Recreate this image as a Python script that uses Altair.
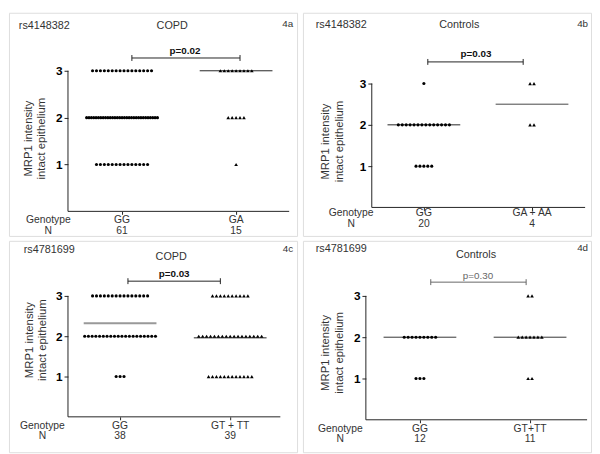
import altair as alt
import pandas as pd

# ---------------- data ----------------
snps = ["rs4148382", "rs4148382", "rs4781699", "rs4781699"]
groups = ["COPD", "Controls", "COPD", "Controls"]
tags = ["4a", "4b", "4c", "4d"]
p_texts = ["p=0.02", "p=0.03", "p=0.03", "p=0.30"]
genotypes = [["GG", "GA"], ["GG", "GA + AA"], ["GG", "GT + TT"], ["GG", "GT+TT"]]
n_labels = [["61", "15"], ["20", "4"], ["38", "39"], ["12", "11"]]
levels = [3, 2, 1]
# number of samples at intensity 3, 2, 1 for each genotype group
counts_a = [[16, 31, 14], [9, 5, 1]]
counts_b = [[1, 14, 5], [2, 2, 0]]
counts_c = [[15, 20, 3], [10, 17, 12]]
counts_d = [[0, 9, 3], [2, 7, 2]]
counts = [counts_a, counts_b, counts_c, counts_d]
# horizontal summary lines per genotype group
center_a = [2.0, 3.0]
center_b = [2.0, 2.5]
center_c = [2.32, 1.96]
center_d = [2.0, 2.0]
centers = [center_a, center_b, center_c, center_d]

# ---------------- layout (pixels inside each panel) ----------------
W = 293
layouts = [
    dict(H=227, axis_x=60, c1=115, c2=231, y3=59, y0=202, axis_end=285,
         rs=(10, 14), grp=(166, 14), tag=(289, 11), br=(125, 235, 46), p=(179, 39),
         yt=(20, 128), gy=211, ny=222, wx=40, pbold=True, pcol="#111"),
    dict(H=227, axis_x=70, c1=123, c2=233, y3=72, y0=198, axis_end=287,
         rs=(13, 13), grp=(159, 13), tag=(290, 11), br=(127, 224, 50), p=(176, 42),
         yt=(24, 131), gy=204, ny=215, wx=49, pbold=True, pcol="#111"),
    dict(H=215, axis_x=60, c1=113, c2=225, y3=56, y0=179, axis_end=276,
         rs=(15, 9), grp=(165, 16), tag=(289, 8), br=(121, 215, 41), p=(168, 34),
         yt=(21, 101), gy=188, ny=199, wx=34, pbold=True, pcol="#111"),
    dict(H=215, axis_x=64, c1=119, c2=231, y3=56, y0=182, axis_end=289,
         rs=(13, 8), grp=(176, 14), tag=(290, 7), br=(130, 227, 42), p=(178, 36),
         yt=(24, 114), gy=191, ny=202, wx=38, pbold=False, pcol="#666"),
]
line_styles = [
    [("#222", 1), ("#222", 1)],
    [("#222", 1), ("#444", 1)],
    [("#999", 2), ("#222", 1)],
    [("#333", 1), ("#333", 1)],
]
FONT = "Liberation Sans"
TXT = "#333"
STEP = 4.0     # px between neighbouring dots
MAXW = 72.0    # max px width of a dot row
HALF = 37.0    # px half width of summary line


def panel(k):
    L = layouts[k]
    H = L["H"]
    u = L["c2"] - L["c1"]
    v = (L["y0"] - L["y3"]) / 3.0
    xs = alt.Scale(domain=[1 - L["c1"] / u, 1 + (W - L["c1"]) / u], nice=False, zero=False)
    ys = alt.Scale(domain=[-(H - L["y0"]) / v, 3 + L["y3"] / v], nice=False, zero=False)
    xaxis = alt.Axis(values=[1, 2], labels=False, domain=False, ticks=True, tickSize=3,
                     tickColor="#222", offset=-(H - L["y0"]), grid=False, title=None)
    yaxis = alt.Axis(values=[1, 2, 3], domain=False, tickSize=4, tickColor="#222",
                     offset=-L["axis_x"], grid=False, title=None, labelFont=FONT,
                     labelFontSize=12, labelFontWeight="bold", labelColor="black",
                     labelPadding=2)

    def X(f="x"):
        return alt.X(f"{f}:Q", scale=xs, axis=xaxis)

    def Y(f="y"):
        return alt.Y(f"{f}:Q", scale=ys, axis=yaxis)

    rows = []
    for gi, cnt in enumerate(counts[k]):
        for lev, n in zip(levels, cnt):
            if n == 0:
                continue
            s = min(STEP, MAXW / (n - 1)) if n > 1 else 0.0
            for i in range(n):
                rows.append({"x": gi + 1 + (i - (n - 1) / 2) * s / u, "y": lev,
                             "g": "circle" if gi == 0 else "tri"})
    dots = pd.DataFrame(rows)

    lines = pd.DataFrame({
        "x": [i + 1 - HALF / u for i in range(2)],
        "x2": [i + 1 + HALF / u for i in range(2)],
        "y": centers[k],
        "c": [line_styles[k][i][0] for i in range(2)],
        "w": [line_styles[k][i][1] for i in range(2)],
    })
    labs = pd.DataFrame({"x": [1, 2], "geno": genotypes[k], "n": n_labels[k]})
    one = pd.DataFrame({"y": [0], "y2": [3]})

    yline = alt.Chart(one).mark_rule(color="#222", strokeWidth=1).encode(
        x=alt.value(L["axis_x"]), y=Y(), y2="y2:Q")
    xline = alt.Chart(one).mark_rule(color="#222", strokeWidth=1).encode(
        x=alt.value(L["axis_x"]), x2=alt.value(L["axis_end"]), y=Y())
    summ = alt.Chart(lines).mark_rule().encode(
        x=X(), x2="x2:Q", y=Y(),
        color=alt.Color("c:N", scale=None),
        strokeWidth=alt.StrokeWidth("w:Q", scale=None))
    circ = alt.Chart(dots).transform_filter("datum.g == 'circle'").mark_point(
        shape="circle", filled=True, size=10, color="black", opacity=1).encode(x=X(), y=Y())
    tri = alt.Chart(dots).transform_filter("datum.g == 'tri'").mark_point(
        shape="triangle-up", filled=True, size=14, color="black", opacity=1).encode(x=X(), y=Y())

    bx1, bx2, by = L["br"]
    bcol = L["pcol"] if not L["pbold"] else "#222"
    dummy = pd.DataFrame({"k": [0]})
    bh = alt.Chart(dummy).mark_rule(color=bcol).encode(
        x=alt.value(bx1), x2=alt.value(bx2), y=alt.value(by))
    bl = alt.Chart(dummy).mark_rule(color=bcol).encode(
        x=alt.value(bx1), y=alt.value(by - 3), y2=alt.value(by + 3))
    br = alt.Chart(dummy).mark_rule(color=bcol).encode(
        x=alt.value(bx2), y=alt.value(by - 3), y2=alt.value(by + 3))
    ptxt = alt.Chart(dummy).mark_text(
        text=p_texts[k], font=FONT, fontSize=10,
        fontWeight="bold" if L["pbold"] else "normal", color=L["pcol"],
        align="center", baseline="middle").encode(x=alt.value(L["p"][0]), y=alt.value(L["p"][1]))

    rs = alt.Chart(dummy).mark_text(text=snps[k], font=FONT, fontSize=11, color=TXT,
                                    align="left", baseline="middle").encode(
        x=alt.value(L["rs"][0]), y=alt.value(L["rs"][1]))
    grp = alt.Chart(dummy).mark_text(text=groups[k], font=FONT, fontSize=11, color=TXT,
                                     align="center", baseline="middle").encode(
        x=alt.value(L["grp"][0]), y=alt.value(L["grp"][1]))
    tag = alt.Chart(dummy).mark_text(text=tags[k], font=FONT, fontSize=10, color=TXT,
                                     align="right", baseline="middle").encode(
        x=alt.value(L["tag"][0]), y=alt.value(L["tag"][1]))
    ytitle = alt.Chart(dummy).mark_text(text=["MRP1 intensity", "intact epithelium"],
                                        font=FONT, fontSize=11.5, color=TXT, angle=270,
                                        align="center", baseline="middle", lineHeight=14).encode(
        x=alt.value(L["yt"][0]), y=alt.value(L["yt"][1]))
    word1 = alt.Chart(dummy).mark_text(text="Genotype", font=FONT, fontSize=10.5, color=TXT,
                                       align="center", baseline="middle").encode(
        x=alt.value(L["wx"]), y=alt.value(L["gy"]))
    word2 = alt.Chart(dummy).mark_text(text="N", font=FONT, fontSize=10.5, color=TXT,
                                       align="center", baseline="middle").encode(
        x=alt.value(L["wx"]), y=alt.value(L["ny"]))
    glab = alt.Chart(labs).mark_text(font=FONT, fontSize=10.5, color=TXT, align="center",
                                     baseline="middle").encode(
        x=X(), y=alt.value(L["gy"]), text="geno:N")
    nlab = alt.Chart(labs).mark_text(font=FONT, fontSize=10.5, color=TXT, align="center",
                                     baseline="middle").encode(
        x=X(), y=alt.value(L["ny"]), text="n:N")

    return alt.layer(yline, xline, summ, circ, tri, bh, bl, br, ptxt, rs, grp, tag,
                     ytitle, word1, word2, glab, nlab).properties(width=W, height=H)


top = alt.hconcat(panel(0), panel(1), spacing=4)
bottom = alt.hconcat(panel(2), panel(3), spacing=4)
chart = alt.vconcat(top, bottom, spacing=3).properties(
    padding={"left": 0, "top": 0, "right": 0, "bottom": 0}
).configure_view(stroke="#444", strokeWidth=1).configure(background="white")

chart.save("out.html", embed_options={"renderer": "svg", "actions": False})
